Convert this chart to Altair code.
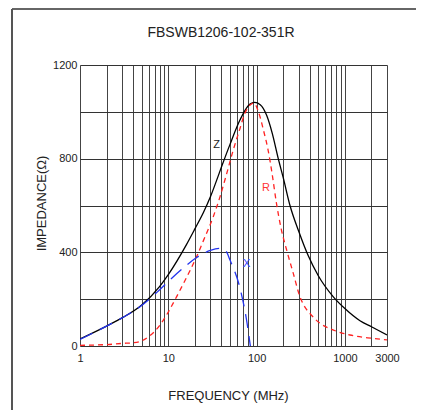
import altair as alt
import pandas as pd

# Z (impedance) curve
z_freq = [1, 2, 3, 5, 8, 10, 16, 20, 25, 30, 35, 40, 50, 65, 80, 95, 110, 130, 150, 176, 200, 239, 300, 385, 500, 740, 1000, 1483, 2000, 3000]
z_val = [30, 85, 120, 175, 255, 305, 432, 500, 570, 637, 704, 764, 861, 966, 1025, 1040, 1030, 985, 910, 800, 720, 600, 490, 385, 300, 210, 160, 108, 82, 47]

# R (resistance) curve
r_freq = [1, 2, 3, 4, 5, 6, 8, 10, 12.4, 15, 20.9, 25, 32.3, 38.5, 45, 54.4, 65, 73.7, 85, 93, 105, 120, 135, 150, 168, 190, 219, 260, 310, 350, 400, 522, 700, 1140, 2000, 3000]
r_val = [3, 6, 11, 14, 22, 40, 88, 145, 210, 270, 381, 450, 552, 637, 725, 837, 930, 994, 1030, 1038, 1000, 920, 837, 735, 609, 500, 410, 311, 210, 168, 140, 97, 72, 47, 33, 26]

# X (reactance) curve
x_freq = [1, 2, 3, 4.78, 7.37, 10.4, 15, 20.9, 30, 38.5, 45, 50, 65, 77, 85]
x_val = [28, 85, 120, 168, 228, 282, 335, 378, 408, 417, 405, 367, 246, 111, 0]

# curve labels
lab_text = ["Z", "R", "X"]
lab_freq = [35.3, 128, 77.3]
lab_val = [858, 675, 350]
lab_color = ["#222222", "#ff3333", "#3344ff"]

chart_title = "FBSWB1206-102-351R"

x_grid = [m * d for d in (1, 10, 100, 1000) for m in range(1, 10) if m * d <= 3000]
y_grid = [0, 200, 400, 600, 800, 1000, 1200]

W, H = 307, 281
FONT = "Liberation Sans"

xs = alt.Scale(type="log", domain=[1, 3000], nice=False)
ys = alt.Scale(domain=[0, 1200], nice=False)

xaxis = alt.Axis(values=x_grid, grid=True, gridColor="#444444", gridWidth=1, gridOpacity=1,
                 ticks=False, tickSize=0, domain=False,
                 labelExpr="indexof([1,10,100,1000,3000], datum.value) >= 0 ? datum.value : ''",
                 labelFont=FONT, labelFontSize=11, labelColor="#222222", labelPadding=6,
                 labelFlush=False, labelOverlap=False,
                 title="FREQUENCY (MHz)", titleFont=FONT, titleFontSize=13, titleFontWeight="normal",
                 titleColor="#222222", titleX=148, titleY=49, titleBaseline="middle", titleAnchor="middle")
yaxis = alt.Axis(values=y_grid, grid=True, gridColor="#333333", gridWidth=1, gridOpacity=1,
                 ticks=False, tickSize=0, domain=False,
                 labelExpr="datum.value % 400 == 0 ? datum.value : ''",
                 labelFont=FONT, labelFontSize=11, labelColor="#222222", labelPadding=3,
                 labelFlush=False, labelOverlap=False,
                 title="IMPEDANCE(Ω)", titleFont=FONT, titleFontSize=13, titleFontWeight="normal",
                 titleColor="#222222", titleX=-39, titleY=138, titleBaseline="middle", titleAnchor="middle")

dz = pd.DataFrame({"f": z_freq, "v": z_val})
dr = pd.DataFrame({"f": r_freq, "v": r_val})
dx = pd.DataFrame({"f": x_freq, "v": x_val})
dl = pd.DataFrame({"f": lab_freq, "v": lab_val, "t": lab_text, "c": lab_color})

zline = alt.Chart(dz).mark_line(color="#000000", strokeWidth=1.3, interpolate="monotone", clip=True).encode(
    x=alt.X("f:Q", scale=xs, axis=xaxis), y=alt.Y("v:Q", scale=ys, axis=yaxis))
rline = alt.Chart(dr).mark_line(color="#ff2222", strokeWidth=1.3, strokeDash=[5, 4], interpolate="monotone", clip=True).encode(
    x=alt.X("f:Q", scale=xs), y=alt.Y("v:Q", scale=ys))
xline = alt.Chart(dx).mark_line(color="#2233ee", strokeWidth=1.3, strokeDash=[14, 8], interpolate="monotone", clip=True).encode(
    x=alt.X("f:Q", scale=xs), y=alt.Y("v:Q", scale=ys))
labels = alt.Chart(dl).mark_text(font=FONT, fontSize=11, align="center", baseline="middle").encode(
    x=alt.X("f:Q", scale=xs), y=alt.Y("v:Q", scale=ys), text="t:N", color=alt.Color("c:N", scale=None))

title_mark = alt.Chart(pd.DataFrame({"t": [chart_title]})).mark_text(
    font=FONT, fontSize=14, color="#222222", align="center", baseline="middle").encode(
    text="t:N", x=alt.value(141), y=alt.value(-32))

frame_top = alt.Chart(pd.DataFrame({"a": [0]})).mark_rule(color="#333333", strokeWidth=1.5).encode(
    x=alt.value(-68), x2=alt.value(W + 40), y=alt.value(-56))
frame_left = alt.Chart(pd.DataFrame({"a": [0]})).mark_rule(color="#555555", strokeWidth=2).encode(
    x=alt.value(-68), y=alt.value(-56), y2=alt.value(H + 70))

chart = alt.layer(frame_top, frame_left, zline, rline, xline, labels, title_mark).properties(
    width=W, height=H,
    autosize=alt.AutoSizeParams(type="none"),
    padding={"left": 72, "top": 57, "right": 29, "bottom": 64},
).configure_view(stroke="#000000", strokeWidth=1.5).configure(background="white")

chart.save("out.html", embed_options={"renderer": "svg", "actions": False})
